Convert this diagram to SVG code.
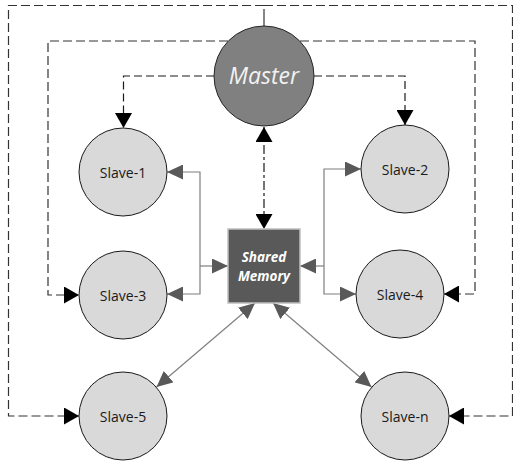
<svg xmlns="http://www.w3.org/2000/svg" width="513" height="464" viewBox="0 0 513 464">
  <style>
    .slave circle { fill: #d9d9d9; stroke: #1a1a1a; stroke-width: 1; }
    .slave text { font-family: "Open Sans", "Liberation Sans", sans-serif; font-size: 14px; fill: #1a1a1a; text-anchor: middle; }
    .ctrl { fill: none; stroke: #1a1a1a; stroke-width: 1.2; stroke-dasharray: 8 4; }
    .loop { fill: none; stroke: #333333; stroke-width: 1.2; stroke-dasharray: 9 4; }
    .stem { fill: none; stroke: #333333; stroke-width: 1.2; }
    .sync { fill: none; stroke: #1a1a1a; stroke-width: 1.2; stroke-dasharray: 9 3 3 3; }
    .data { fill: none; stroke: #7f7f7f; stroke-width: 1.2; }
    .mem { font-family: "Open Sans", "Liberation Sans", sans-serif; font-size: 13.5px; font-weight: bold; font-style: italic; fill: #ffffff; text-anchor: middle; }
  </style>
  <defs>
    <marker id="arrowBlack" viewBox="0 0 15 17" markerWidth="15" markerHeight="17" refX="15" refY="8.5" orient="auto-start-reverse" markerUnits="userSpaceOnUse">
      <path d="M0,0 L15,8.5 L0,17 Z" fill="#000000"/>
    </marker>
    <marker id="arrowGray" viewBox="0 0 16 15" markerWidth="16" markerHeight="15" refX="16" refY="7.5" orient="auto-start-reverse" markerUnits="userSpaceOnUse">
      <path d="M0,0 L16,7.5 L0,15 Z" fill="#595959"/>
    </marker>
  </defs>

  <g id="connectors">
    <!-- outer loop: master to Slave-5 and Slave-n -->
    <path class="stem" d="M264,26 V9"/>
    <path class="loop" d="M264,5.5 H8.5 V416 H79" marker-end="url(#arrowBlack)"/>
    <path class="loop" d="M264,5.5 H512.5 V416 H449" marker-end="url(#arrowBlack)"/>
    <!-- inner loop: master to Slave-3 and Slave-4 -->
    <path class="loop" d="M228,41 H48 V295 H79" marker-end="url(#arrowBlack)"/>
    <path class="loop" d="M300,41 H475 V294 H444" marker-end="url(#arrowBlack)"/>
    <!-- master to Slave-1 / Slave-2 -->
    <path class="ctrl" d="M214,76 H123.5 V128" marker-end="url(#arrowBlack)"/>
    <path class="ctrl" d="M314,76 H405 V125" marker-end="url(#arrowBlack)"/>
    <!-- master to shared memory -->
    <path class="sync" d="M264,127 V229" marker-start="url(#arrowBlack)" marker-end="url(#arrowBlack)"/>
    <!-- shared memory bus, left -->
    <path class="data" d="M200,266 V172 H167" marker-end="url(#arrowGray)"/>
    <path class="data" d="M200,266 V294 H167" marker-end="url(#arrowGray)"/>
    <path class="data" d="M200,266 H228" marker-end="url(#arrowGray)"/>
    <!-- shared memory bus, right -->
    <path class="data" d="M324,266 V169 H361" marker-end="url(#arrowGray)"/>
    <path class="data" d="M324,266 V294 H356" marker-end="url(#arrowGray)"/>
    <path class="data" d="M324,266 H300" marker-end="url(#arrowGray)"/>
    <!-- shared memory to Slave-5 / Slave-n -->
    <path class="data" d="M255,303 L156.5,387" marker-start="url(#arrowGray)" marker-end="url(#arrowGray)"/>
    <path class="data" d="M273,303 L371.5,387" marker-start="url(#arrowGray)" marker-end="url(#arrowGray)"/>
  </g>

  <g id="master">
    <circle cx="264" cy="76" r="50" fill="#808080" stroke="#262626" stroke-width="1"/>
    <text x="264" y="84" font-family="'Open Sans', 'Liberation Sans', sans-serif" font-size="23" font-style="italic" fill="#f2f2f2" text-anchor="middle">Master</text>
  </g>

  <g id="shared-memory">
    <rect x="228" y="229" width="72" height="74" fill="#595959" stroke="#bfbfbf" stroke-width="1.5"/>
    <text class="mem" x="264" y="261.5">Shared</text>
    <text class="mem" x="264" y="280.5">Memory</text>
  </g>

  <g id="slave-1" class="slave">
    <circle cx="123" cy="172" r="44"/>
    <text x="123" y="177.5">Slave-1</text>
  </g>
  <g id="slave-2" class="slave">
    <circle cx="405" cy="169" r="44"/>
    <text x="405" y="174.5">Slave-2</text>
  </g>
  <g id="slave-3" class="slave">
    <circle cx="123" cy="295" r="44"/>
    <text x="123" y="300.5">Slave-3</text>
  </g>
  <g id="slave-4" class="slave">
    <circle cx="400" cy="294" r="44"/>
    <text x="400" y="299.5">Slave-4</text>
  </g>
  <g id="slave-5" class="slave">
    <circle cx="123" cy="416" r="44"/>
    <text x="123" y="421.5">Slave-5</text>
  </g>
  <g id="slave-n" class="slave">
    <circle cx="405" cy="416" r="44"/>
    <text x="405" y="421.5">Slave-n</text>
  </g>
</svg>
